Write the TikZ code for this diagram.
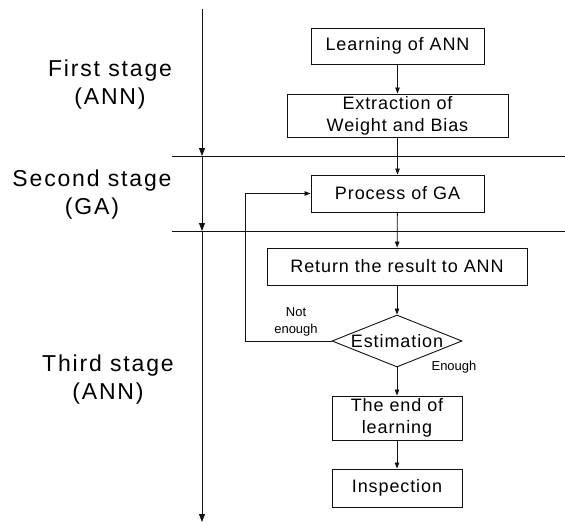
\documentclass[tikz,border=0pt]{standalone}
\usepackage{fontspec}
\setmainfont{Liberation Sans}
\newfontfamily\stagefont[LetterSpace=8]{Liberation Sans}
\newfontfamily\boxfont[LetterSpace=5]{Liberation Sans}
\usepackage{tikz}
\usetikzlibrary{arrows.meta,positioning,shapes.geometric}
\definecolor{ink}{HTML}{111111}

\begin{document}
\begin{tikzpicture}[x=1pt,y=-1pt,
  stepbox/.style={rectangle,draw=ink,line width=0.9pt,align=center,inner sep=0pt,font=\boxfont\fontsize{18}{22}\selectfont},
  stagelabel/.style={align=center,inner sep=0pt,font=\stagefont\fontsize{23}{28}\selectfont},
  smalllabel/.style={align=center,inner sep=0pt,font=\fontsize{13}{17}\selectfont},
  flow/.style={-{Triangle[length=6pt,width=4.5pt]},ink,line width=0.8pt},
  timeline/.style={-{Triangle[length=8pt,width=6pt]},ink,line width=0.8pt}]
\useasboundingbox (0,0) rectangle (565,525);
\node[stagelabel] (st1) at (110,85) {First stage\\(ANN)};
\node[stagelabel] (st2) at (92,195) {Second stage\\(GA)};
\node[stagelabel] (st3) at (108,380) {Third stage\\(ANN)};
\coordinate (t0) at (202,9);
\coordinate (t1) at (202,156);
\coordinate (t2) at (202,231);
\coordinate (t3) at (202,522);
\coordinate (d1l) at (172,156);
\coordinate (d1r) at (565,156);
\coordinate (d2l) at (172,231);
\coordinate (d2r) at (565,231);
\draw[ink,line width=0.8pt] (d1l) -- (d1r);
\draw[ink,line width=0.8pt] (d2l) -- (d2r);
\draw[timeline] (t0) -- (t1);
\draw[timeline] (t1) -- (t2);
\draw[timeline] (t2) -- (t3);
\node[stepbox,minimum width=173pt,minimum height=36pt] (learn) at (397.5,46) {Learning of ANN};
\node[stepbox,minimum width=221pt,minimum height=43pt] (extract) at (397.5,115.5) {Extraction of\\Weight and Bias};
\node[stepbox,minimum width=173pt,minimum height=37pt] (process) at (397.5,193.5) {Process of GA};
\node[stepbox,minimum width=260pt,minimum height=37pt] (return) at (397,266.5) {Return the result to ANN};
\node[diamond,draw=ink,line width=0.9pt,minimum width=130pt,minimum height=52pt,inner sep=0pt,font=\boxfont\fontsize{18}{22}\selectfont] (estim) at (397,341) {\makebox[0pt]{Estimation}};
\node[stepbox,minimum width=130pt,minimum height=44pt] (finish) at (397,418) {The end of\\learning};
\node[stepbox,minimum width=130pt,minimum height=38pt] (inspect) at (397,488) {Inspection};
\draw[flow] (learn) -- (extract);
\draw[flow] (extract) -- (process);
\draw[flow] (process) -- (return);
\draw[flow] (return) -- (estim);
\draw[flow] (estim) -- (finish);
\draw[flow] (finish) -- (inspect);
\draw[flow] (estim.west) -- ++(-86,0) |- (process.west);
\node[smalllabel] (notenough) at (296,322) {Not\\enough};
\node[smalllabel] (enough) at (454,367) {Enough};
\end{tikzpicture}
\end{document}
